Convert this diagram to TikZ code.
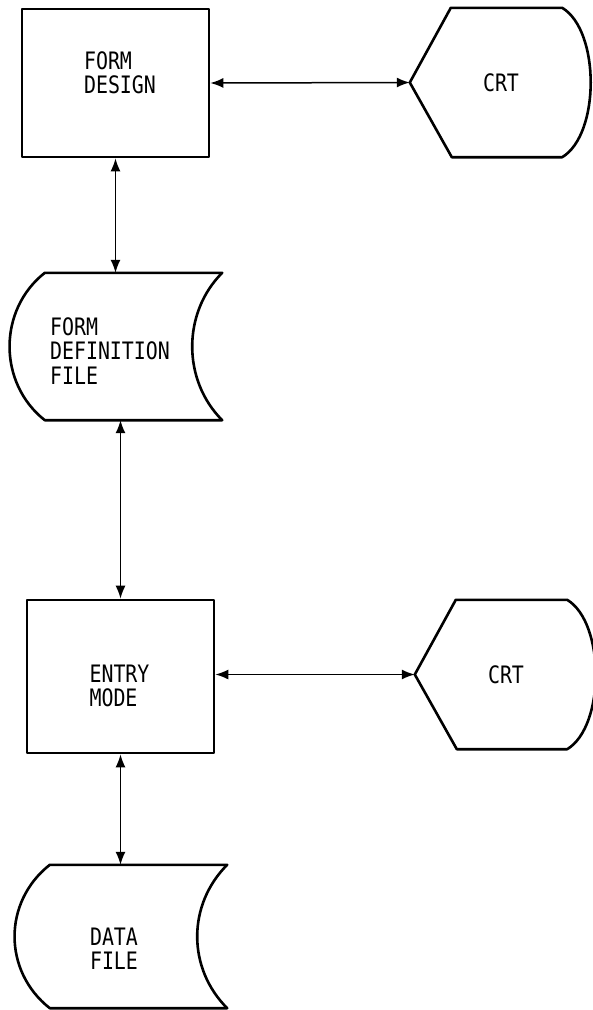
\documentclass[tikz,border=0pt]{standalone}
\usepackage{fontspec}
\newfontfamily\plotter[FakeStretch=0.83]{DejaVu Sans Mono}
\usetikzlibrary{arrows.meta}

\tikzset{
  contorno/.style={line width=2.6pt, line join=round},
  caja/.style={contorno, draw, minimum width=187pt},
  rotulo/.style={font=\plotter\fontsize{24}{24.5}\selectfont, align=left, inner sep=0pt},
  hueco/.style={rotulo, align=center, minimum width=#1},
  flecha/.style={{Latex[length=13pt,width=10pt]}-{Latex[length=13pt,width=10pt]}, line width=1.5pt},
}

% archivo: lado izquierdo convexo, derecho concavo
\newcommand{\archivo}[1]{%
  \draw[contorno] (#1.north west) -- (#1.north east)
    .. controls ([xshift=-40pt,yshift=-40pt]#1.north east) and ([xshift=-40pt,yshift=40pt]#1.south east) .. (#1.south east)
    -- (#1.south west)
    .. controls ([xshift=-47pt,yshift=37pt]#1.south west) and ([xshift=-47pt,yshift=-37pt]#1.north west) .. cycle;}

% pantalla
\newcommand{\pantalla}[1]{%
  \draw[contorno] (#1.west) -- ([xshift=41pt]#1.north west) -- ([xshift=-30pt]#1.north east)
    .. controls ([xshift=8pt,yshift=-23pt]#1.north east) and ([xshift=8pt,yshift=23pt]#1.south east) .. ([xshift=-30pt]#1.south east)
    -- ([xshift=42pt]#1.south west) -- cycle;}

\begin{document}
\begin{tikzpicture}[x=1pt,y=-1pt]
        \useasboundingbox (0,0) rectangle (593,1010);

        % Diseno del formulario
        \node[caja, minimum height=148pt] (diseno) at (115.5,83) {};
        \node[rotulo] (disenotxt) at (120,73) {FORM\\DESIGN};
        \node[hueco=182pt, minimum height=149pt] (crtA) at (501,82.5) {CRT};
        \pantalla{crtA}
        \draw[flecha] (diseno.east) -- (crtA.west);

        % Archivo de definicion
        \node[minimum width=177pt, minimum height=147pt] (deffile) at (133.5,346.5) {};
        \archivo{deffile}
        \node[rotulo] (deffiletxt) at (110,351) {FORM\\DEFINITION\\FILE};
        \draw[flecha] (diseno.south) -- (diseno.south |- deffile.north);

        % Modo de entrada
        \node[caja, minimum height=153pt] (entrada) at (120.5,676.5) {};
        \node[rotulo] (entradatxt) at (119.5,686) {ENTRY\\MODE};
        \node[hueco=182pt, minimum height=149pt] (crtB) at (506,674.5) {CRT};
        \pantalla{crtB}
        \draw[flecha] (entrada.north |- deffile.south) -- (entrada.north);
        \draw[flecha] (entrada.east |- crtB.west) -- (crtB.west);

        % Archivo de datos
        \node[minimum width=177pt, minimum height=143pt] (datafile) at (138.5,936.5) {};
        \archivo{datafile}
        \node[rotulo] (datafiletxt) at (114,948.5) {DATA\\FILE};
        \draw[flecha] (entrada.south) -- (entrada.south |- datafile.north);
\end{tikzpicture}
\end{document}
